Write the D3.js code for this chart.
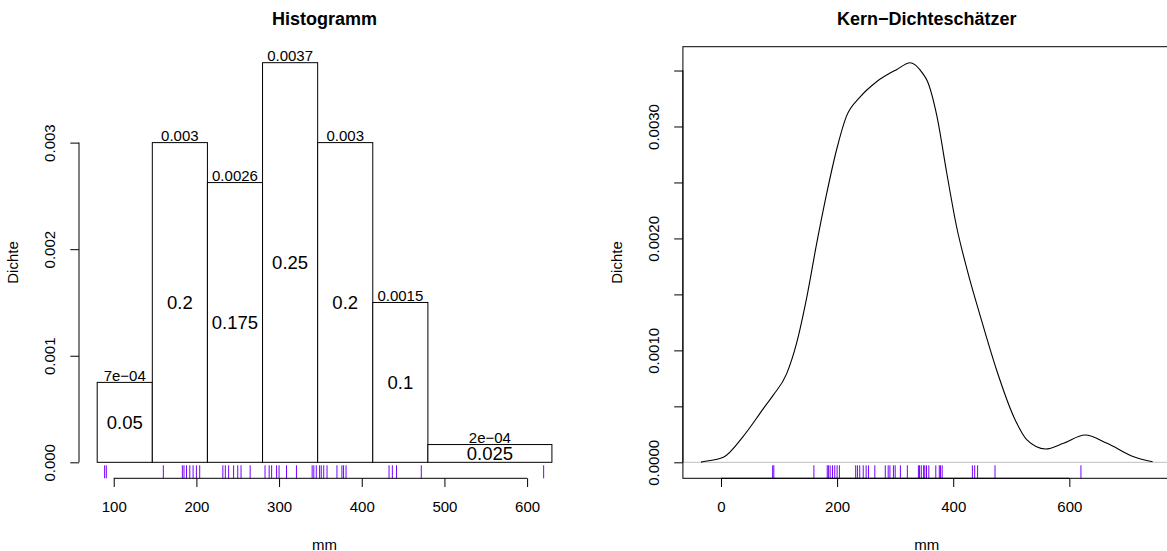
<!DOCTYPE html>
<html>
<head>
<meta charset="utf-8">
<script src="https://cdn.jsdelivr.net/npm/d3@7"></script>
<style>
  body { margin: 0; background: #fff; }
  svg text { font-family: "Liberation Sans", Arial, sans-serif; fill: #000; }
</style>
</head>
<body>
<div id="chart"></div>
<script>
// data (mm)
var mmValues = [89, 91,
  160, 183, 185, 188, 192, 196, 200, 204,
  232, 235, 239, 245, 250, 254, 265,
  283, 288, 291, 297, 300, 309, 321, 340, 342, 345,
  349, 351, 354, 358, 370, 376, 378, 381,
  433, 437, 442, 472,
  620];

// histogram bins
var binStart = [80, 146.67, 213.33, 280, 346.67, 413.33, 480];
var binEnd   = [146.67, 213.33, 280, 346.67, 413.33, 480, 630];
var binDensity = [0.00075, 0.003, 0.002625, 0.00375, 0.003, 0.0015, 0.0001667];
var densityLabels = ["7e\u221204", "0.003", "0.0026", "0.0037", "0.003", "0.0015", "2e\u221204"];
var relFreqLabels = ["0.05", "0.2", "0.175", "0.25", "0.2", "0.1", "0.025"];

// kernel density curve
var kdeX = [-34.5, -31.5, 4, 38, 73, 90, 113, 130, 148, 165, 182, 199, 216, 239, 268, 303, 326,
  348, 355, 372, 389, 406, 424, 447, 475, 504, 527, 559, 590, 627, 665, 711, 743.5];
var kdeY = [0.000002, 0.000005, 0.000045, 0.00023, 0.00048, 0.0006, 0.00079, 0.00106, 0.00148, 0.00196,
  0.0024, 0.00279, 0.00309, 0.00326, 0.0034, 0.00351, 0.00357,
  0.00347, 0.00341, 0.00309, 0.00258, 0.0021, 0.00172, 0.0013, 0.00082, 0.00041, 0.0002,
  0.000119, 0.00017, 0.000244, 0.00017, 0.00005, 0.000005];

// ticks
var histXTicks = [100, 200, 300, 400, 500, 600];
var histYTicks = [0, 0.001, 0.002, 0.003];
var histYLabels = ["0.000", "0.001", "0.002", "0.003"];
var kdeXTicks = [0, 200, 400, 600];
var kdeYTicks = [0, 0.0005, 0.001, 0.0015, 0.002, 0.0025, 0.003, 0.0035];
var kdeYLabels = ["0.0000", "", "0.0010", "", "0.0020", "", "0.0030", ""];

var width = 1167, height = 551;
var rugColor = "#7400ff";
var tickLen = 8.7;

var svg = d3.select("#chart").append("svg")
  .attr("width", width)
  .attr("height", height);

var plotTop = 46.7, plotBottom = 478.3;

function drawAxes(g, x, y, xTicks, yTicks, yLabels, left) {
  var xa = g.append("g")
    .attr("transform", "translate(0," + plotBottom + ")")
    .call(d3.axisBottom(x).tickValues(xTicks).tickSize(tickLen).tickSizeOuter(0).tickFormat(d3.format("d")));
  xa.select(".domain").remove();
  xa.append("line")
    .attr("x1", x(xTicks[0])).attr("x2", x(xTicks[xTicks.length - 1]))
    .attr("stroke", "#000");
  xa.selectAll("text").attr("y", 34).attr("dy", 0)
    .style("font-size", "15px").style("font-family", null);

  var ya = g.append("g")
    .attr("transform", "translate(" + left + ",0)")
    .call(d3.axisLeft(y).tickValues(yTicks).tickSize(tickLen).tickSizeOuter(0)
      .tickFormat(function(d, i) { return yLabels[i]; }));
  ya.select(".domain").remove();
  ya.append("line")
    .attr("y1", y(yTicks[0])).attr("y2", y(yTicks[yTicks.length - 1]))
    .attr("stroke", "#000");
  ya.selectAll("text")
    .attr("x", 0).attr("dy", 0)
    .attr("transform", "translate(-24,0) rotate(-90)")
    .attr("text-anchor", "middle")
    .style("font-size", "15px").style("font-family", null);
  g.selectAll(".tick line").attr("stroke", "#000");
  g.selectAll(".tick text").attr("fill", "#000");
}

function drawRug(g, x) {
  g.selectAll("line.rug")
    .data(mmValues)
    .enter().append("line")
    .attr("class", "rug")
    .attr("x1", function(d) { return x(d); })
    .attr("x2", function(d) { return x(d); })
    .attr("y1", plotBottom)
    .attr("y2", plotBottom - 13)
    .attr("stroke", rugColor)
    .attr("stroke-width", 1);
}

function labels(g, left, right, title) {
  g.append("text")
    .attr("x", (left + right) / 2).attr("y", 25)
    .attr("text-anchor", "middle")
    .style("font-size", "18px").style("font-weight", "bold")
    .text(title);
  g.append("text")
    .attr("x", (left + right) / 2).attr("y", 550)
    .attr("text-anchor", "middle")
    .style("font-size", "15px")
    .text("mm");
  g.append("text")
    .attr("transform", "translate(" + (left - 61) + "," + ((plotTop + plotBottom) / 2) + ") rotate(-90)")
    .attr("text-anchor", "middle")
    .style("font-size", "15px")
    .text("Dichte");
}

// ---- left: histogram
var hl = 79, hr = 570.1;
var hx = d3.scaleLinear().domain([58, 652]).range([hl, hr]);
var hy = d3.scaleLinear().domain([-0.00015, 0.0039]).range([plotBottom, plotTop]);
var hist = svg.append("g");

hist.selectAll("rect.bar")
  .data(binDensity)
  .enter().append("rect")
  .attr("class", "bar")
  .attr("x", function(d, i) { return hx(binStart[i]); })
  .attr("width", function(d, i) { return hx(binEnd[i]) - hx(binStart[i]); })
  .attr("y", function(d) { return hy(d); })
  .attr("height", function(d) { return hy(0) - hy(d); })
  .attr("fill", "#fff")
  .attr("stroke", "#000")
  .attr("stroke-width", 1);

hist.selectAll("text.dlab")
  .data(binDensity)
  .enter().append("text")
  .attr("class", "dlab")
  .attr("x", function(d, i) { return hx((binStart[i] + binEnd[i]) / 2); })
  .attr("y", function(d) { return hy(d) - 1.5; })
  .attr("text-anchor", "middle")
  .style("font-size", "15px")
  .text(function(d, i) { return densityLabels[i]; });

hist.selectAll("text.flab")
  .data(binDensity)
  .enter().append("text")
  .attr("class", "flab")
  .attr("x", function(d, i) { return hx((binStart[i] + binEnd[i]) / 2); })
  .attr("y", function(d) { return hy(d / 2); })
  .attr("dy", "0.35em")
  .attr("text-anchor", "middle")
  .style("font-size", "18.5px")
  .text(function(d, i) { return relFreqLabels[i]; });

drawRug(hist, hx);
drawAxes(hist, hx, hy, histXTicks, histYTicks, histYLabels, hl);
labels(hist, hl, hr, "Histogramm");

// ---- right: kernel density
var kl = 682.9, kr = 1170.7;
var kx = d3.scaleLinear().domain([-65.6, 774.6]).range([kl, kr]);
var ky = d3.scaleLinear().domain([-0.0001428, 0.0037128]).range([plotBottom, plotTop]);
var kde = svg.append("g");

kde.append("line")
  .attr("x1", kl).attr("x2", kr)
  .attr("y1", ky(0)).attr("y2", ky(0))
  .attr("stroke", "#bebebe");

var line = d3.line()
  .x(function(d, i) { return kx(kdeX[i]); })
  .y(function(d) { return ky(d); })
  .curve(d3.curveMonotoneX);

kde.append("path")
  .attr("d", line(kdeY))
  .attr("fill", "none")
  .attr("stroke", "#000")
  .attr("stroke-width", 1.1);

drawRug(kde, kx);

kde.append("rect")
  .attr("x", kl).attr("y", plotTop)
  .attr("width", kr - kl).attr("height", plotBottom - plotTop)
  .attr("fill", "none")
  .attr("stroke", "#000");

drawAxes(kde, kx, ky, kdeXTicks, kdeYTicks, kdeYLabels, kl);
labels(kde, kl, kr, "Kern\u2212Dichtesch\u00e4tzer");
</script>
</body>
</html>
